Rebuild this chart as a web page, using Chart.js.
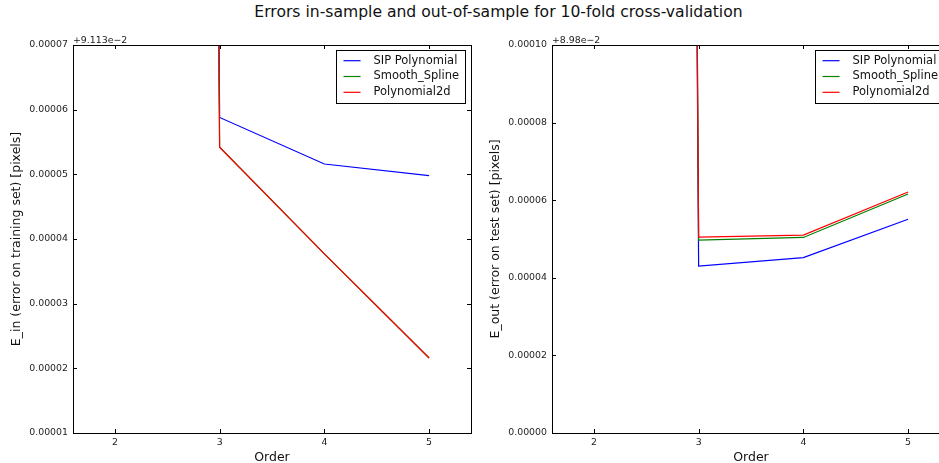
<!DOCTYPE html>
<html><head><meta charset="utf-8">
<script src="https://cdn.jsdelivr.net/npm/chart.js@4/dist/chart.umd.min.js"></script>
<style>
html,body{margin:0;padding:0;background:#fff;overflow:hidden;width:939px;height:463px;}
#title{position:absolute;left:0;width:997px;top:2.9px;line-height:18px;text-align:center;font-family:'DejaVu Sans';font-size:15.6px;color:#111;white-space:nowrap;}
.box{position:absolute;top:0;width:480px;height:463px;}
</style></head><body>
<div id="title">Errors in-sample and out-of-sample for 10-fold cross-validation</div>
<div class="box" style="left:0"><canvas id="c1" width="480" height="463"></canvas></div>
<div class="box" style="left:470px"><canvas id="c2" width="480" height="463"></canvas></div>
<script>
// ---- data ----
const orders = [2, 3, 4, 5];
const xTickLabels = [2, 3, 4, 5];
const seriesNames = ['SIP Polynomial', 'Smooth_Spline', 'Polynomial2d'];
const seriesColors = ['#0000ff', '#008000', '#ff0000'];

// in-sample errors (shown relative to offset +9.113e-2)
const offsetIn = '+9.113e\u22122';
const sipIn    = [0.0021, 0.0000588, 0.0000516, 0.0000498];
const splineIn = [0.0021, 0.0000542, 0.0000377, 0.0000216];
const polyIn   = [0.0021, 0.0000542, 0.0000377, 0.0000216];
const yTicksIn = [0.00001, 0.00002, 0.00003, 0.00004, 0.00005, 0.00006, 0.00007];

// out-of-sample errors (shown relative to offset +8.98e-2)
const offsetOut = '+8.98e\u22122';
const sipOut    = [0.004, 0.0000430, 0.0000452, 0.0000551];
const splineOut = [0.004, 0.0000497, 0.0000504, 0.0000616];
const polyOut   = [0.004, 0.0000505, 0.0000510, 0.0000621];
const yTicksOut = [0.00000, 0.00002, 0.00004, 0.00006, 0.00008, 0.00010];

const FONT = "'DejaVu Sans'";

const framePlugin = {
  id: 'frame',
  afterDraw(chart, args, opts) {
    const ctx = chart.ctx;
    const a = chart.chartArea;
    const xs = chart.scales.x, ys = chart.scales.y;
    ctx.save();
    // frame
    ctx.strokeStyle = '#000';
    ctx.lineWidth = 1;
    ctx.strokeRect(Math.round(a.left) + 0.5, Math.round(a.top) + 0.5, Math.round(a.right - a.left), Math.round(a.bottom - a.top));
    // inward ticks
    const tl = 4;
    ctx.beginPath();
    xs.ticks.forEach(t => {
      const px = Math.round(xs.getPixelForValue(t.value)) + 0.5;
      ctx.moveTo(px, a.bottom); ctx.lineTo(px, a.bottom - tl);
      ctx.moveTo(px, a.top); ctx.lineTo(px, a.top + tl);
    });
    ys.ticks.forEach(t => {
      const py = Math.round(ys.getPixelForValue(t.value)) + 0.5;
      ctx.moveTo(a.left, py); ctx.lineTo(a.left + tl, py);
      ctx.moveTo(a.right, py); ctx.lineTo(a.right - tl, py);
    });
    ctx.stroke();
    // offset text
    ctx.fillStyle = '#222';
    ctx.font = '9.4px ' + FONT;
    ctx.textAlign = 'left';
    ctx.textBaseline = 'alphabetic';
    ctx.fillText(opts.offset, a.left, a.top - 2);
    // axis titles
    ctx.fillStyle = '#111';
    ctx.font = '12.5px ' + FONT;
    ctx.textAlign = 'center';
    ctx.fillText('Order', (a.left + a.right) / 2, 461);
    ctx.save();
    ctx.translate(a.left - opts.yTitleDx, (a.top + a.bottom) / 2);
    ctx.rotate(-Math.PI / 2);
    ctx.textBaseline = 'middle';
    ctx.fillText(opts.yTitle, 0, 0);
    ctx.restore();
    // legend
    ctx.font = '11.5px ' + FONT;
    const ds = chart.data.datasets;
    let maxW = 0;
    ds.forEach(d => { maxW = Math.max(maxW, ctx.measureText(d.label).width); });
    const w = 8 + 17 + 13 + maxW + 6;
    const h = 53;
    const right = a.right - 6;
    const left = right - w;
    const top = a.top + 5;
    ctx.fillStyle = '#fff';
    ctx.fillRect(left, top, w, h);
    ctx.strokeStyle = '#000';
    ctx.lineWidth = 1;
    ctx.strokeRect(Math.round(left) + 0.5, Math.round(top) + 0.5, Math.round(w), h);
    ds.forEach((d, i) => {
      const cy = top + 10.7 + i * 15.8;
      ctx.strokeStyle = d.borderColor;
      ctx.lineWidth = 1.2;
      ctx.beginPath();
      ctx.moveTo(left + 8, cy); ctx.lineTo(left + 25, cy);
      ctx.stroke();
      ctx.fillStyle = '#111';
      ctx.textAlign = 'left';
      ctx.textBaseline = 'middle';
      ctx.fillText(d.label, left + 38, cy);
    });
    ctx.restore();
  }
};

function makeChart(id, seriesValues, yMin, yMax, yTicks, axisLeft, padRight, offset, yTitle) {
  const n = seriesValues.length;
  const datasets = seriesValues.map((vals, i) => ({
    label: seriesNames[i],
    data: orders.map((o, j) => ({ x: o, y: vals[j] })),
    borderColor: seriesColors[i],
    backgroundColor: seriesColors[i],
    borderWidth: 1.2,
    pointRadius: 0,
    fill: false,
    tension: 0,
    order: n - i,
    clip: 0
  }));
  const tickFont = { family: FONT, size: 9.4 };
  return new Chart(document.getElementById(id), {
    type: 'line',
    data: { datasets },
    options: {
      responsive: false,
      animation: false,
      devicePixelRatio: 1,
      layout: { padding: { top: 45, right: padRight, left: 0, bottom: 0 } },
      plugins: {
        legend: { display: false },
        tooltip: { enabled: false },
        title: { display: false },
        frame: { offset, yTitle, yTitleDx: 56 }
      },
      scales: {
        x: {
          type: 'linear', min: 1.6, max: 5.4,
          afterBuildTicks: s => { s.ticks = xTickLabels.map(v => ({ value: v })); },
          afterFit: s => { s.height = 30; },
          grid: { display: false, drawTicks: false },
          border: { display: false },
          ticks: { padding: 4, font: tickFont, color: '#222', maxRotation: 0, autoSkip: false, callback: v => String(v) }
        },
        y: {
          type: 'linear', min: yMin, max: yMax,
          afterBuildTicks: s => { s.ticks = yTicks.map(v => ({ value: v })); },
          afterFit: s => { s.width = axisLeft; },
          grid: { display: false, drawTicks: false },
          border: { display: false },
          ticks: { padding: 5, font: tickFont, color: '#222', autoSkip: false, callback: v => Number(v).toFixed(5) }
        }
      }
    },
    plugins: [framePlugin]
  });
}

makeChart('c1', [sipIn, splineIn, polyIn], 0.00001, 0.00007, yTicksIn, 73, 9, offsetIn,
  'E_in (error on training set) [pixels]');
makeChart('c2', [sipOut, splineOut, polyOut], 0.0, 0.0001, yTicksOut, 82, 0, offsetOut,
  'E_out (error on test set) [pixels]');
</script>
</body></html>
